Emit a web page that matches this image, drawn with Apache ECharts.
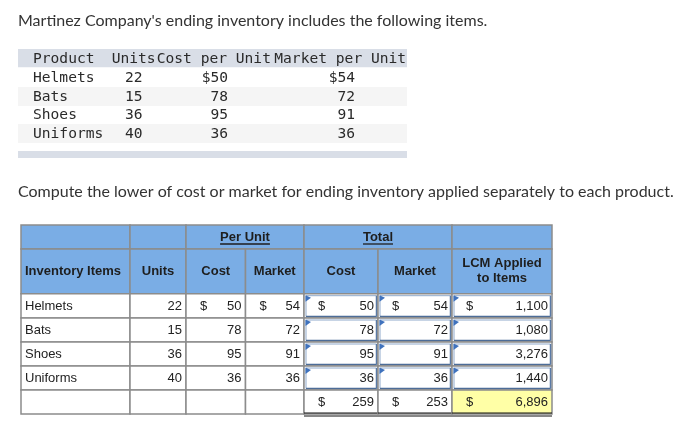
<!DOCTYPE html>
<html><head><meta charset="utf-8">
<script src="https://cdn.jsdelivr.net/npm/echarts@6/dist/echarts.min.js"></script>
<style>html,body{margin:0;padding:0;background:#fff}#c{width:680px;height:428px}</style>
</head><body><div id="c"></div>
<script>
// ---------- data ----------
const introText = "Martinez Company's ending inventory includes the following items.";
const taskText = "Compute the lower of cost or market for ending inventory applied separately to each product.";
const topHeaders = ['Product', 'Units', 'Cost per Unit', 'Market per Unit'];
const products = ['Helmets', 'Bats', 'Shoes', 'Uniforms'];
const units = [22, 15, 36, 40];
const costPerUnit = [50, 78, 95, 36];
const marketPerUnit = [54, 72, 91, 36];
const totalCost = [50, 78, 95, 36];
const totalMarket = [54, 72, 91, 36];
const lcmApplied = [1100, 1080, 3276, 1440];
const totalSums = [259, 253, 6896];
const groupHeaders = ['Per Unit', 'Total'];
const colHeaders = ['Inventory Items', 'Units', 'Cost', 'Market', 'Cost', 'Market', 'LCM Applied\nto Items'];

// ---------- layout (axis units) ----------
const TOP_W = 389, TOP_H = 109;
const TOP_ROWS = [0, 18.5, 38, 57, 75, 94, 102, 109];
const LOW_W = 531, LOW_H = 189;
const LC = [0, 109, 165, 224.5, 283, 357, 431, 531];
const LR = [0, 24, 68.7, 93, 117, 141, 165, 189];

const fmt = v => Number(v).toLocaleString('en-US');
const MONO = '14.6px "DejaVu Sans Mono"';
const SANS = '13px "Liberation Sans", Arial, sans-serif';
const SANSB = 'bold 13px "Liberation Sans", Arial, sans-serif';
const TXT = '#222';

// ---------- top table rows ----------
const topRows = [];
topRows.push({ band: '#d9dee7', cells: topHeaders.map((t, i) => ({ text: t, x: [15, 93.7, 138.7, 256.3][i], align: 'left' })) });
products.forEach((p, i) => {
  topRows.push({
    band: i % 2 === 1 ? '#f5f5f5' : '#ffffff',
    cells: [
      { text: p, x: 15, align: 'left' },
      { text: String(units[i]), x: 107, align: 'left' },
      { text: (i === 0 ? '$' : '') + costPerUnit[i], x: 210, align: 'right' },
      { text: (i === 0 ? '$' : '') + marketPerUnit[i], x: 337, align: 'right' }
    ]
  });
});
topRows.push({ band: '#ffffff', cells: [] });
topRows.push({ band: '#d9dee7', cells: [] });

function topRender(params, api) {
  const r = topRows[params.dataIndex];
  const i = params.dataIndex;
  const p0 = api.coord([0, TOP_ROWS[i]]);
  const p1 = api.coord([TOP_W, TOP_ROWS[i + 1]]);
  const children = [{ type: 'rect', shape: { x: p0[0], y: p0[1], width: p1[0] - p0[0], height: p1[1] - p0[1] }, style: { fill: r.band } }];
  const cy = (p0[1] + p1[1]) / 2;
  r.cells.forEach(c => {
    const px = api.coord([c.x, 0])[0];
    children.push({ type: 'text', style: { text: c.text, x: px, y: cy + 0.5, font: MONO, fill: '#2a2a2a', align: c.align, verticalAlign: 'middle' } });
  });
  return { type: 'group', children };
}

// ---------- lower table cells ----------
const lowCells = [];
lowCells.push({ row: 0, col: 0, span: 1, kind: 'head', text: '' });
lowCells.push({ row: 0, col: 1, span: 1, kind: 'head', text: '' });
lowCells.push({ row: 0, col: 2, span: 2, kind: 'head', text: groupHeaders[0], underline: true });
lowCells.push({ row: 0, col: 4, span: 2, kind: 'head', text: groupHeaders[1], underline: true });
lowCells.push({ row: 0, col: 6, span: 1, kind: 'head', text: '' });
colHeaders.forEach((h, c) => lowCells.push({ row: 1, col: c, span: 1, kind: 'head', text: h, left: c === 0 }));
products.forEach((p, i) => {
  const row = 2 + i;
  const d = i === 0;
  lowCells.push({ row, col: 0, span: 1, kind: 'data', text: p, left: true });
  lowCells.push({ row, col: 1, span: 1, kind: 'data', text: fmt(units[i]) });
  lowCells.push({ row, col: 2, span: 1, kind: 'data', text: fmt(costPerUnit[i]), dollar: d });
  lowCells.push({ row, col: 3, span: 1, kind: 'data', text: fmt(marketPerUnit[i]), dollar: d });
  lowCells.push({ row, col: 4, span: 1, kind: 'input', text: fmt(totalCost[i]), dollar: d });
  lowCells.push({ row, col: 5, span: 1, kind: 'input', text: fmt(totalMarket[i]), dollar: d });
  lowCells.push({ row, col: 6, span: 1, kind: 'input', text: fmt(lcmApplied[i]), dollar: d });
});
[0, 1, 2, 3].forEach(c => lowCells.push({ row: 6, col: c, span: 1, kind: 'data', text: '' }));
lowCells.push({ row: 6, col: 4, span: 1, kind: 'total', text: fmt(totalSums[0]), dollar: true });
lowCells.push({ row: 6, col: 5, span: 1, kind: 'total', text: fmt(totalSums[1]), dollar: true });
lowCells.push({ row: 6, col: 6, span: 1, kind: 'total', text: fmt(totalSums[2]), dollar: true, yellow: true });

const measureCtx = document.createElement('canvas').getContext('2d');

function lowRender(params, api) {
  const c = lowCells[params.dataIndex];
  const p0 = api.coord([LC[c.col], LR[c.row]]);
  const p1 = api.coord([LC[c.col + c.span], LR[c.row + 1]]);
  const x = p0[0], y = p0[1], w = p1[0] - p0[0], h = p1[1] - p0[1];
  const cy = y + h / 2;
  const ch = [];
  let fill = '#ffffff';
  if (c.kind === 'head') fill = '#7aade5';
  if (c.yellow) fill = '#ffffa6';
  ch.push({ type: 'rect', shape: { x, y, width: w, height: h }, style: { fill, stroke: '#8c8c8c', lineWidth: 1.5 } });
  if (c.kind === 'input') {
    ch.push({ type: 'rect', shape: { x: x + 2, y: y + 2, width: w - 3.5, height: h - 3.5 }, style: { fill: '#ffffff', stroke: '#8fa9cb', lineWidth: 1 } });
    ch.push({ type: 'line', shape: { x1: x + 2, y1: y + h - 1.5, x2: x + w - 1.5, y2: y + h - 1.5 }, style: { stroke: '#4d6d98', lineWidth: 1.5 } });
    ch.push({ type: 'line', shape: { x1: x + w - 1.5, y1: y + 2, x2: x + w - 1.5, y2: y + h - 1.5 }, style: { stroke: '#5a7aa6', lineWidth: 1.5 } });
    ch.push({ type: 'polygon', shape: { points: [[x + 1.5, y + 1.5], [x + 7, y + 4], [x + 1.5, y + 8]] }, style: { fill: '#3f72bd' } });
  }
  if (c.kind === 'total') {
    ch.push({ type: 'line', shape: { x1: x, y1: y + h - 1, x2: x + w, y2: y + h - 1 }, style: { stroke: '#111', lineWidth: 1 } });
    ch.push({ type: 'line', shape: { x1: x, y1: y + h + 2, x2: x + w, y2: y + h + 2 }, style: { stroke: '#111', lineWidth: 1 } });
  }
  if (c.text) {
    if (c.kind === 'head') {
      const tx = c.left ? x + 4 : x + w / 2;
      ch.push({ type: 'text', style: { text: c.text, x: tx, y: cy, font: SANSB, fill: '#1e1e1e', align: c.left ? 'left' : 'center', verticalAlign: 'middle', lineHeight: 15 } });
      if (c.underline) {
        measureCtx.font = SANSB;
        const tw = measureCtx.measureText(c.text).width;
        ch.push({ type: 'line', shape: { x1: x + w / 2 - tw / 2, y1: cy + 7, x2: x + w / 2 + tw / 2, y2: cy + 7 }, style: { stroke: '#1e1e1e', lineWidth: 1.3 } });
      }
    } else if (c.left) {
      ch.push({ type: 'text', style: { text: c.text, x: x + 4, y: cy + 0.5, font: SANS, fill: TXT, align: 'left', verticalAlign: 'middle' } });
    } else {
      ch.push({ type: 'text', style: { text: c.text, x: x + w - 4, y: cy + 0.5, font: SANS, fill: TXT, align: 'right', verticalAlign: 'middle' } });
    }
    if (c.dollar) {
      ch.push({ type: 'text', style: { text: '$', x: x + 14, y: cy + 0.5, font: SANS, fill: TXT, align: 'left', verticalAlign: 'middle' } });
    }
  }
  return { type: 'group', children: ch };
}

const chart = echarts.init(document.getElementById('c'), null, { renderer: 'canvas' });
chart.setOption({
  backgroundColor: '#ffffff',
  animation: false,
  title: [
    { text: introText, left: 18, top: 13, padding: 0, textStyle: { fontFamily: 'Lato', fontSize: 16, fontWeight: 'normal', color: '#333' } },
    { text: taskText, left: 18, top: 184, padding: 0, textStyle: { fontFamily: 'Lato', fontSize: 16, fontWeight: 'normal', color: '#333' } }
  ],
  grid: [
    { left: 18, top: 49, width: TOP_W, height: TOP_H },
    { left: 21, top: 225, width: LOW_W, height: LOW_H }
  ],
  xAxis: [
    { type: 'value', gridIndex: 0, min: 0, max: TOP_W, show: false },
    { type: 'value', gridIndex: 1, min: 0, max: LOW_W, show: false }
  ],
  yAxis: [
    { type: 'value', gridIndex: 0, min: 0, max: TOP_H, inverse: true, show: false },
    { type: 'value', gridIndex: 1, min: 0, max: LOW_H, inverse: true, show: false }
  ],
  series: [
    { type: 'custom', xAxisIndex: 0, yAxisIndex: 0, clip: false, renderItem: topRender, data: topRows.map((r, i) => [0, i]) },
    { type: 'custom', xAxisIndex: 1, yAxisIndex: 1, clip: false, renderItem: lowRender, data: lowCells.map(c => [c.col, c.row]) }
  ]
});
</script></body></html>
